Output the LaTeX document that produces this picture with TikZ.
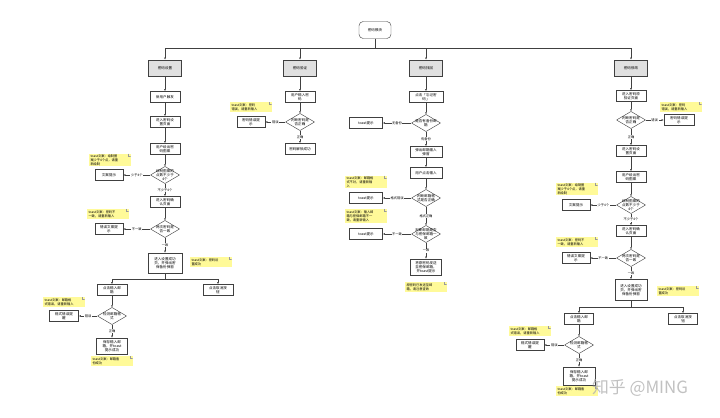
\documentclass[tikz,border=0pt]{standalone}
\usepackage{fontspec}
\newfontfamily\cjk{Noto Sans CJK SC}
\usetikzlibrary{arrows.meta,positioning,shadows}

\begin{document}
\begin{tikzpicture}[
    x=0.05cm,y=-0.05cm,
    font=\cjk\fontsize{5}{6}\selectfont,
    start/.style={draw=black!75, rounded corners=6pt, fill=white, minimum width=1.6cm, minimum height=0.85cm, line width=0.6pt},
    head/.style={draw=black!75, fill=black!12, minimum width=1.65cm, minimum height=0.8cm, line width=0.7pt, drop shadow={shadow xshift=0.6pt, shadow yshift=-0.6pt, opacity=0.25}},
    stepbox/.style={draw=black!75, fill=white, minimum width=1.5cm, minimum height=0.55cm, inner sep=1.5pt, align=center, line width=0.6pt},
    decide/.style={minimum width=1.45cm, minimum height=0.85cm, inner sep=0pt, align=center, path picture={\filldraw[fill=white, draw=black!75, line width=0.6pt] (path picture bounding box.north) -- (path picture bounding box.east) -- (path picture bounding box.south) -- (path picture bounding box.west) -- cycle;}},
    note/.style={fill=yellow!40, text width=1.95cm, align=left, inner sep=1.5pt, font=\cjk\fontsize{4.6}{5.6}\selectfont, path picture={\draw[black!40, line width=0.3pt] ([xshift=-3pt]path picture bounding box.north east) -- ++(0,-3pt) -- ++(3pt,0);}},
    edge/.style={-{Latex[length=3pt,width=2.6pt]}, draw=black!75, line width=0.6pt},
    line/.style={draw=black!75, line width=0.6pt},
    elab/.style={fill=white, inner sep=0.8pt, font=\cjk\fontsize{4.6}{5.5}\selectfont},
    wmark/.style={text=black!30, opacity=0.8, font=\cjk\fontsize{24}{26}\selectfont}
  ]
    \fill[white] (0,0) rectangle (720,418);
    \useasboundingbox (0,0) rectangle (720,418);

    \node[start] (top) at (375,30) {密码模块};
    \coordinate (j0) at (375,48);
    \node[head] (h1) at (165,68) {密码设置};
    \node[head] (h2) at (300,68) {密码验证};
    \node[head] (h3) at (426,68) {密码找回};
    \node[head] (h4) at (631,68) {密码修改};
    \draw[line] (top) -- (j0);
    \foreach \h in {h1,h2,h3,h4}
      \draw[edge] (j0) -| (\h);

    \node[stepbox] (a1) at (165,97) {新用户触发};
    \node[stepbox] (a2) at (165,122) {进入密码设\\置页面};
    \node[stepbox] (a3) at (165,149) {用户绘出密\\码图案};
    \node[decide] (d1) at (165,175) {绘制图案的\\点数不少于\\4个};
    \node[stepbox, minimum width=1.4cm] (e1) at (109,175) {文案提示};
    \node[stepbox] (a4) at (165,202) {进入密码确\\认页面};
    \node[decide] (d2) at (165,229) {两次密码是\\否一致};
    \node[stepbox, minimum width=1.4cm] (e2) at (109,229) {错误文案提\\示};
    \node[stepbox, minimum width=1.7cm, minimum height=1cm] (s1) at (165,263) {进入设置成功\\页，并弹出密\\保备份弹窗};
    \coordinate (j1) at (165,279);
    \node[stepbox] (b1) at (112,290) {点击输入邮\\箱};
    \node[stepbox] (c1) at (218,290) {点击取消按\\钮};
    \node[decide] (d3) at (112,316) {检测邮箱格\\式};
    \node[stepbox, minimum width=1.45cm] (e3) at (64,316) {格式错误提\\醒};
    \node[stepbox, minimum width=1.55cm, minimum height=0.8cm] (v1) at (112,346) {保存输入邮\\箱，并toast\\提示成功};
    \node[note] (n1) at (110,160) {toast文案：绘制图\\案少于4个点，请重\\新绘制};
    \node[note] (n2) at (108,214) {toast文案：密码不\\一致，请重新输入};
    \node[note] (n3) at (211,262) {toast文案：密码设\\置成功};
    \node[note] (n4) at (64,302) {toast文案：邮箱格\\式错误，请重新输入};
    \node[note] (n5) at (112,361) {toast文案：邮箱备\\份成功};
    \draw[edge] (h1) -- (a1);
    \draw[edge] (a1) -- (a2);
    \draw[edge] (a2) -- (a3);
    \draw[edge] (a3) -- (d1);
    \draw[edge] (d1) -- node[elab] {少于4个} (e1);
    \draw[edge] (d1) -- node[elab] {不少于4个} (a4);
    \draw[edge] (a4) -- (d2);
    \draw[edge] (d2) -- node[elab] {不一致} (e2);
    \draw[edge] (d2) -- node[elab] {一致} (s1);
    \draw[line] (s1) -- (j1);
    \draw[edge] (j1) -| (b1);
    \draw[edge] (j1) -| (c1);
    \draw[edge] (b1) -- (d3);
    \draw[edge] (d3) -- node[elab] {错误} (e3);
    \draw[edge] (d3) -- node[elab] {正确} (v1);

    \node[stepbox] (a5) at (300,97) {用户输入密\\码};
    \node[decide] (d4) at (300,122) {判断密码是\\否正确};
    \node[stepbox, minimum width=1.4cm] (e4) at (251,122) {密码错误提\\示};
    \node[stepbox] (f1) at (300,149) {密码解锁成功};
    \node[note] (n6) at (251,107) {toast文案：密码\\错误，请重新输入};
    \draw[edge] (h2) -- (a5);
    \draw[edge] (a5) -- (d4);
    \draw[edge] (d4) -- node[elab] {错误} (e4);
    \draw[edge] (d4) -- node[elab] {正确} (f1);

    \node[stepbox, minimum width=1.7cm] (a6) at (426,97) {点击「忘记密\\码」};
    \node[decide] (d5) at (426,123) {是否有备份邮\\箱};
    \node[stepbox, minimum width=1.65cm] (e5) at (366,123) {toast提示};
    \node[stepbox, minimum width=1.6cm] (a7) at (426,152) {弹出邮箱输入\\弹窗};
    \node[stepbox, minimum width=1.6cm] (a8) at (426,173) {用户点击输入};
    \node[decide] (d6) at (426,198) {判断邮箱格\\式是否正确};
    \node[stepbox, minimum width=1.65cm] (e6) at (366,198) {toast提示};
    \node[decide] (d7) at (426,234) {判断邮箱是否\\与密保邮箱一\\致};
    \node[stepbox, minimum width=1.65cm] (e7) at (366,234) {toast提示};
    \node[stepbox, minimum width=1.55cm, minimum height=0.8cm] (f2) at (426,267) {将原密码发送\\至密保邮箱，\\并toast提示};
    \node[note] (n7) at (366,182) {toast文案：邮箱格\\式不对，请重新输\\入};
    \node[note] (n8) at (366,216) {toast文案：输入邮\\箱与密保邮箱不一\\致，请重新输入};
    \node[note] (n9) at (426,287) {原密码已发送至邮\\箱，请注意查收};
    \draw[edge] (h3) -- (a6);
    \draw[edge] (a6) -- (d5);
    \draw[edge] (d5) -- node[elab] {无备份} (e5);
    \draw[edge] (d5) -- node[elab] {有备份} (a7);
    \draw[edge] (a7) -- (a8);
    \draw[edge] (a8) -- (d6);
    \draw[edge] (d6) -- node[elab] {格式错误} (e6);
    \draw[edge] (d6) -- node[elab] {格式正确} (d7);
    \draw[edge] (d7) -- node[elab] {不一致} (e7);
    \draw[edge] (d7) -- node[elab] {一致} (f2);

    \node[stepbox] (a9) at (631,96) {进入密码原\\验证页面};
    \node[decide] (d8) at (631,120) {判断密码是\\否正确};
    \node[stepbox] (e8) at (679,120) {密码错误提\\示};
    \node[stepbox] (a10) at (631,151) {进入密码设\\置页面};
    \node[stepbox] (a11) at (631,177) {用户绘出密\\码图案};
    \node[decide] (d9) at (631,205) {绘制图案的\\点数不少于\\4个};
    \node[stepbox, minimum width=1.4cm] (e9) at (576,205) {文案提示};
    \node[stepbox] (a12) at (631,231) {进入密码确\\认页面};
    \node[decide] (d10) at (631,258) {两次密码是\\否一致};
    \node[stepbox, minimum width=1.4cm] (e10) at (576,258) {错误文案提\\示};
    \node[stepbox, minimum width=1.6cm, minimum height=1.05cm] (s2) at (631,290) {进入设置成功\\页，并弹出密\\保备份弹窗};
    \coordinate (j2) at (631,307);
    \node[stepbox, minimum width=1.45cm] (b2) at (579,319) {点击输入邮\\箱};
    \node[stepbox, minimum width=1.45cm] (c2) at (683,319) {点击取消按\\钮};
    \node[decide] (d11) at (579,345) {检测邮箱格\\式};
    \node[stepbox, minimum width=1.4cm] (e11) at (530,345) {格式错误提\\醒};
    \node[stepbox, minimum width=1.6cm, minimum height=0.9cm] (v2) at (579,376) {保存输入邮\\箱，并toast\\提示成功};
    \node[note] (n10) at (681,107) {toast文案：密码\\错误，请重新输入};
    \node[note] (n11) at (577,189) {toast文案：绘制图\\案少于4个点，请重\\新绘制};
    \node[note] (n12) at (577,242) {toast文案：密码不\\一致，请重新输入};
    \node[note] (n13) at (678,291) {toast文案：密码设\\置成功};
    \node[note] (n14) at (530,331) {toast文案：邮箱格\\式错误，请重新输入};
    \node[note] (n15) at (577,391) {toast文案：邮箱备\\份成功};
    \draw[edge] (h4) -- (a9);
    \draw[edge] (a9) -- (d8);
    \draw[edge] (d8) -- node[elab] {错误} (e8);
    \draw[edge] (d8) -- node[elab] {正确} (a10);
    \draw[edge] (a10) -- (a11);
    \draw[edge] (a11) -- (d9);
    \draw[edge] (d9) -- node[elab] {少于4个} (e9);
    \draw[edge] (d9) -- node[elab] {不少于4个} (a12);
    \draw[edge] (a12) -- (d10);
    \draw[edge] (d10) -- node[elab] {不一致} (e10);
    \draw[edge] (d10) -- node[elab] {一致} (s2);
    \draw[line] (s2) -- (j2);
    \draw[edge] (j2) -| (b2);
    \draw[edge] (j2) -| (c2);
    \draw[edge] (b2) -- (d11);
    \draw[edge] (d11) -- node[elab] {错误} (e11);
    \draw[edge] (d11) -- node[elab] {正确} (v2);

    \node[wmark] (wm) at (640,388) {知乎 @MING};
  \end{tikzpicture}
\end{document}
